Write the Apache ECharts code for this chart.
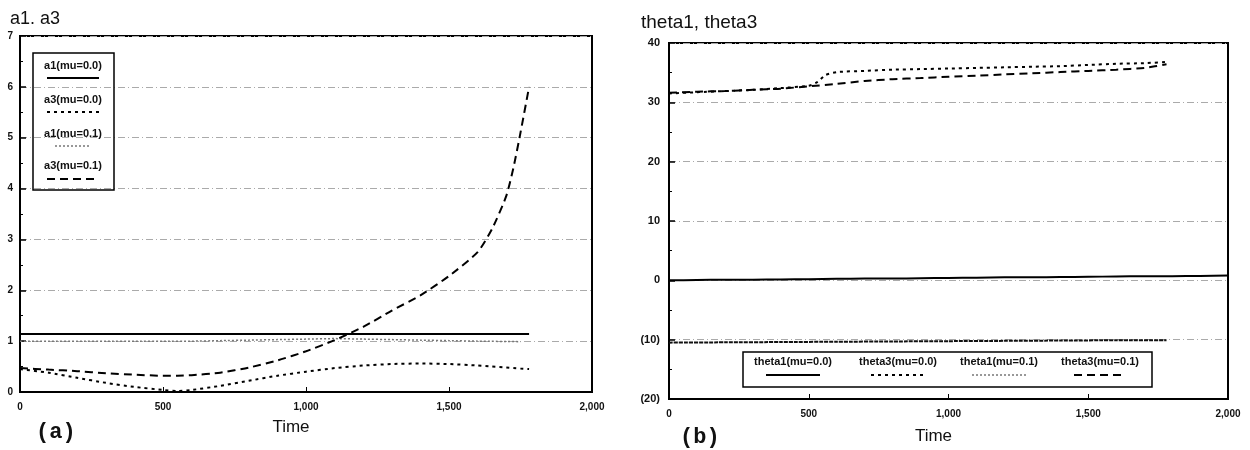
<!DOCTYPE html>
<html>
<head>
<meta charset="utf-8">
<script src="https://cdn.jsdelivr.net/npm/echarts@6.0.0/dist/echarts.min.js"></script>
<style>
  html, body { margin: 0; padding: 0; background: #fff; }
  #main { width: 1250px; height: 450px; }
</style>
</head>
<body>
<div id="main"></div>
<script>
// panel (a): a1, a3
var timeA = [0, 100, 200, 300, 400, 500, 550, 600, 700, 800, 900, 1000, 1100, 1200, 1300, 1400, 1500, 1600, 1650, 1700, 1725, 1750, 1780]
var a1Mu00 = [1.14, 1.14, 1.14, 1.14, 1.14, 1.14, 1.14, 1.14, 1.14, 1.14, 1.14, 1.14, 1.14, 1.14, 1.14, 1.14, 1.14, 1.14, 1.14, 1.14, 1.14, 1.14, 1.14]
var a3Mu00 = [0.45, 0.38, 0.28, 0.18, 0.1, 0.04, 0.02, 0.04, 0.12, 0.22, 0.32, 0.4, 0.47, 0.52, 0.55, 0.56, 0.55, 0.52, 0.5, 0.48, 0.47, 0.46, 0.45]
var a3Mu01 = [0.47, 0.44, 0.41, 0.37, 0.34, 0.32, 0.32, 0.33, 0.38, 0.48, 0.62, 0.8, 1.02, 1.28, 1.6, 1.9, 2.28, 2.75, 3.2, 3.85, 4.4, 5.1, 6.0]
var timeA1 = [0, 100, 200, 300, 400, 500, 600, 700, 800, 900, 1000, 1100, 1200, 1300, 1400, 1500, 1600, 1750]
var a1Mu01 = [1.0, 1.0, 1.0, 1.0, 1.0, 1.0, 1.0, 1.01, 1.02, 1.03, 1.04, 1.05, 1.04, 1.03, 1.02, 1.01, 1.0, 0.99]

// panel (b): theta1, theta3
var timeB = [0, 100, 200, 300, 400, 500, 600, 700, 800, 900, 1000, 1100, 1200, 1300, 1400, 1500, 1600, 1700, 1800, 1900, 2000]
var theta1Mu00 = [0, 0.05, 0.1, 0.1, 0.15, 0.2, 0.25, 0.3, 0.3, 0.35, 0.4, 0.45, 0.5, 0.5, 0.55, 0.6, 0.65, 0.7, 0.7, 0.75, 0.8]
var timeB1 = [0, 200, 400, 600, 800, 1000, 1200, 1400, 1600, 1780]
var theta1Mu01 = [-10.5, -10.45, -10.4, -10.35, -10.3, -10.25, -10.2, -10.15, -10.1, -10.1]
var timeB3 = [0, 100, 200, 300, 400, 500, 530, 560, 600, 700, 800, 900, 1000, 1100, 1200, 1300, 1400, 1500, 1600, 1700, 1780]
var theta3Mu00 = [31.5, 31.7, 31.9, 32.1, 32.4, 32.8, 33.4, 34.6, 35.1, 35.3, 35.5, 35.6, 35.7, 35.8, 35.9, 36.0, 36.1, 36.3, 36.5, 36.6, 36.8]
var timeB4 = [0, 100, 200, 300, 400, 500, 600, 700, 800, 900, 1000, 1100, 1200, 1300, 1400, 1500, 1600, 1700, 1780]
var theta3Mu01 = [31.6, 31.8, 31.9, 32.1, 32.3, 32.7, 33.1, 33.6, 33.9, 34.1, 34.3, 34.5, 34.7, 34.9, 35.1, 35.3, 35.5, 35.8, 36.4]

function pairs(ts, vs) {
  return ts.map(function (t, i) { return [t, vs[i]] })
}

// line looks
var SOLID = { color: '#000', width: 2, type: 'solid' }
var DOTS = { color: '#000', width: 2, type: [3, 4] }
var FAINT = { color: '#777', width: 1.5, type: [2, 2] }
var DASH = { color: '#000', width: 2, type: [8, 5] }

var tickFont = { fontFamily: 'Liberation Sans', fontSize: 10, fontWeight: 'bold', color: '#111' }

function xAxisOf(gridIndex, gap, padRight) {
  return {
    gridIndex: gridIndex, type: 'value', min: 0, max: 2000, interval: 500,
    name: 'Time', nameLocation: 'middle', nameGap: gap,
    nameTextStyle: { fontFamily: 'Liberation Sans', fontSize: 17, color: '#111', padding: [0, padRight, 0, 0] },
    axisLine: { show: true, onZero: false, lineStyle: { color: '#000', width: 2 } },
    axisTick: { show: true, inside: true, length: 5, lineStyle: { color: '#000' } },
    axisLabel: Object.assign({ margin: 10, formatter: function (v) { return v.toLocaleString('en-US') } }, tickFont),
    splitLine: { show: false }
  }
}

function yAxisOf(gridIndex, min, max, step, size, margin, fmt) {
  return {
    gridIndex: gridIndex, type: 'value', min: min, max: max, interval: step,
    axisLine: { show: true, onZero: false, lineStyle: { color: '#000', width: 1 } },
    axisTick: { show: true, inside: true, length: 6, lineStyle: { color: '#000', width: 1.5 } },
    minorTick: { show: true, splitNumber: 2, length: 3, lineStyle: { color: '#000' } },
    axisLabel: Object.assign({ margin: margin, formatter: fmt }, tickFont, { fontSize: size }),
    splitLine: { show: true, lineStyle: { color: '#aaa', width: 1, type: [7, 3, 1, 3] } }
  }
}

function line(name, x, y, data, style) {
  return {
    name: name, type: 'line', xAxisIndex: x, yAxisIndex: y, data: data,
    showSymbol: false, smooth: 0.2, lineStyle: style, z: 3, animation: false
  }
}

// legend boxes: text above, sample line below
function legendBox(box, items) {
  var els = [{
    type: 'rect', shape: box, z: 100,
    style: { fill: 'none', stroke: '#000', lineWidth: 1.5 }
  }]
  items.forEach(function (it) {
    els.push({
      type: 'text', x: it.cx, y: it.ty, z: 100,
      style: { text: it.label, align: 'center', verticalAlign: 'middle', font: 'bold 11px "Liberation Sans"', fill: '#111' }
    })
    els.push({
      type: 'line', z: 100,
      shape: { x1: it.cx - it.w / 2, y1: it.sy, x2: it.cx + it.w / 2, y2: it.sy },
      style: { stroke: it.style.color, lineWidth: it.style.width, lineDash: it.style.type === 'solid' ? null : it.style.type }
    })
  })
  return els
}

var legendA = legendBox({ x: 33, y: 53, width: 81, height: 137 }, [
  { label: 'a1(mu=0.0)', cx: 73, ty: 66, sy: 78, w: 52, style: SOLID },
  { label: 'a3(mu=0.0)', cx: 73, ty: 100, sy: 112, w: 52, style: DOTS },
  { label: 'a1(mu=0.1)', cx: 73, ty: 134, sy: 146, w: 36, style: FAINT },
  { label: 'a3(mu=0.1)', cx: 73, ty: 166, sy: 179, w: 52, style: DASH }
])
var legendB = legendBox({ x: 743, y: 352, width: 409, height: 35 }, [
  { label: 'theta1(mu=0.0)', cx: 793, ty: 362, sy: 375, w: 54, style: SOLID },
  { label: 'theta3(mu=0.0)', cx: 898, ty: 362, sy: 375, w: 54, style: DOTS },
  { label: 'theta1(mu=0.1)', cx: 999, ty: 362, sy: 375, w: 54, style: FAINT },
  { label: 'theta3(mu=0.1)', cx: 1100, ty: 362, sy: 375, w: 52, style: DASH }
])

var chart = echarts.init(document.getElementById('main'))
chart.setOption({
  backgroundColor: '#fff',
  animation: false,
  title: [
    { text: 'a1. a3', left: 5, top: 5, textStyle: { fontFamily: 'Liberation Sans', fontSize: 18, fontWeight: 'normal', color: '#111' } },
    { text: 'theta1, theta3', left: 636, top: 8, textStyle: { fontFamily: 'Liberation Sans', fontSize: 19, fontWeight: 'normal', color: '#111' } }
  ],
  grid: [
    { left: 20, right: 658, top: 36, bottom: 58, show: true, borderColor: '#000', borderWidth: 2, backgroundColor: 'transparent' },
    { left: 669, right: 22, top: 43, bottom: 49, show: true, borderColor: '#000', borderWidth: 2, backgroundColor: 'transparent' }
  ],
  xAxis: [xAxisOf(0, 27, 30), xAxisOf(1, 29, 30)],
  yAxis: [
    yAxisOf(0, 0, 7, 1, 10, 7, function (v) { return String(v) }),
    yAxisOf(1, -20, 40, 10, 11, 9, function (v) { return v < 0 ? '(' + (-v) + ')' : String(v) })
  ],
  series: [
    line('a1(mu=0.0)', 0, 0, pairs(timeA, a1Mu00), SOLID),
    line('a3(mu=0.0)', 0, 0, pairs(timeA, a3Mu00), DOTS),
    line('a1(mu=0.1)', 0, 0, pairs(timeA1, a1Mu01), FAINT),
    line('a3(mu=0.1)', 0, 0, pairs(timeA, a3Mu01), DASH),
    line('theta1(mu=0.0)', 1, 1, pairs(timeB, theta1Mu00), SOLID),
    line('theta3(mu=0.0)', 1, 1, pairs(timeB3, theta3Mu00), DOTS),
    line('theta1(mu=0.1)', 1, 1, pairs(timeB1, theta1Mu01), { color: '#111', width: 2, type: [4, 1] }),
    line('theta3(mu=0.1)', 1, 1, pairs(timeB4, theta3Mu01), DASH)
  ],
  graphic: legendA.concat(legendB).concat([
    { type: 'text', x: 36, y: 421, style: { text: '(a)', font: 'bold 22px "Liberation Mono"', fill: '#111' } },
    { type: 'text', x: 680, y: 426, style: { text: '(b)', font: 'bold 22px "Liberation Mono"', fill: '#111' } }
  ])
})
</script>
</body>
</html>
